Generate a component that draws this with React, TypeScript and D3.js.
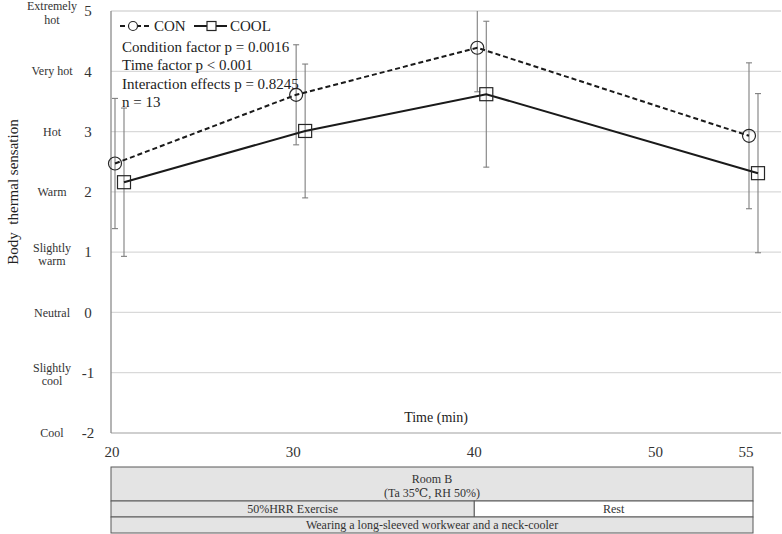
import React from "react";
import * as d3 from "d3";

const times = [20, 30, 40, 55];
const conMean = [2.47, 3.61, 4.39, 2.93];
const conSd = [1.08, 0.83, 0.73, 1.21];
const coolMean = [2.16, 3.01, 3.62, 2.31];
const coolSd = [1.23, 1.11, 1.21, 1.32];

const xTicks = [20, 30, 40, 50, 55];
const yTicks = [5, 4, 3, 2, 1, 0, -1, -2];
const yLabels = [
  ["Extremely", "hot"],
  ["Very hot"],
  ["Hot"],
  ["Warm"],
  ["Slightly", "warm"],
  ["Neutral"],
  ["Slightly", "cool"],
  ["Cool"],
];
const statLines = [
  "Condition factor p = 0.0016",
  "Time factor p < 0.001",
  "Interaction effects p = 0.8245",
  "n = 13",
];

const W = 782;
const H = 534;
const left = 111;
const right = 781;
const top = 11;
const bottom = 433;
const font = "Liberation Serif, DejaVu Serif, serif";

export default function App() {
  const x = d3.scaleLinear().domain([20, 55]).range([112, 746]);
  const y = d3.scaleLinear().domain([-2, 5]).range([bottom, top]);

  const series = [
    { name: "CON", mean: conMean, sd: conSd, dx: 3, dash: "5,3", marker: "circle" },
    { name: "COOL", mean: coolMean, sd: coolSd, dx: 12, dash: null, marker: "square" },
  ];

  const clampY = (v: number) => y(Math.max(-2, Math.min(5, v)));

  const boxL = left;
  const boxR = 753;
  const splitX = x(40);

  return (
    <svg width={W} height={H} style={{ position: "absolute", left: 0, top: 0 }}>
      <g fontFamily={font}>
        <rect width={W} height={H} fill="#fff" />
        {/* grid */}
        {yTicks.map(t => (
          <line key={t} x1={left} x2={right} y1={y(t)} y2={y(t)} stroke={t === -2 ? "#bfbfbf" : "#d9d9d9"} strokeWidth={1.3} />
        ))}
        <line x1={left} x2={left} y1={top} y2={bottom} stroke="#8c8c8c" strokeWidth={1.3} />

        {/* y tick numbers and labels */}
        {yTicks.map((t, i) => (
          <g key={"yl" + t}>
            <text x={88} y={y(t)} dy="0.35em" textAnchor="middle" fontSize={15} fill="#333">{t}</text>
            <text x={52} y={y(t)} textAnchor="middle" fontSize={12} fill="#333">
              {yLabels[i].map((s, j) => (
                <tspan key={j} x={52} dy={j === 0 ? (yLabels[i].length === 1 ? "0.35em" : "-0.05em") : "1.1em"}>{s}</tspan>
              ))}
            </text>
          </g>
        ))}
        <text
          transform={`translate(13,${(top + bottom) / 2 - 30}) rotate(-90)`}
          textAnchor="middle"
          dy="0.35em"
          fontSize={15}
          fill="#222"
          style={{ whiteSpace: "pre" }}
        >
          {"Body  thermal sensation"}
        </text>

        {/* x ticks */}
        {xTicks.map(t => (
          <text key={"xt" + t} x={x(t)} y={452} dy="0.35em" textAnchor="middle" fontSize={15} fill="#333">{t}</text>
        ))}
        <text x={436} y={422} textAnchor="middle" fontSize={14} fill="#222">Time (min)</text>

        {/* error bars */}
        {series.map(s =>
          times.map((t, i) => {
            const cx = x(t) + s.dx;
            const hi = s.mean[i] + s.sd[i];
            const lo = s.mean[i] - s.sd[i];
            return (
              <g key={s.name + "e" + i} stroke="#7f7f7f" strokeWidth={1.1}>
                <line x1={cx} x2={cx} y1={clampY(hi)} y2={clampY(lo)} />
                {hi <= 5 && <line x1={cx - 3} x2={cx + 3} y1={y(hi)} y2={y(hi)} />}
                <line x1={cx - 3} x2={cx + 3} y1={y(lo)} y2={y(lo)} />
              </g>
            );
          })
        )}

        {/* lines and markers */}
        {series.map(s => {
          const line = d3
            .line<number>()
            .x((_, i) => x(times[i]) + s.dx)
            .y(d => y(d));
          return (
            <g key={s.name}>
              <path d={line(s.mean) || ""} fill="none" stroke="#1a1a1a" strokeWidth={2} strokeDasharray={s.dash || undefined} />
              {s.mean.map((v, i) =>
                s.marker === "circle" ? (
                  <circle key={i} cx={x(times[i]) + s.dx} cy={y(v)} r={6.5} fill="none" stroke="#262626" strokeWidth={1.2} />
                ) : (
                  <rect key={i} x={x(times[i]) + s.dx - 6.5} y={y(v) - 6.5} width={13} height={13} fill="none" stroke="#262626" strokeWidth={1.2} />
                )
              )}
            </g>
          );
        })}

        {/* legend */}
        <g>
          <line x1={120} x2={150} y1={26} y2={26} stroke="#1a1a1a" strokeWidth={2} strokeDasharray="5,3" />
          <circle cx={133} cy={26} r={4.5} fill="#fff" stroke="#262626" strokeWidth={1.2} />
          <text x={154} y={26} dy="0.35em" fontSize={15} fill="#222">CON</text>
          <line x1={194} x2={227} y1={26} y2={26} stroke="#1a1a1a" strokeWidth={2} />
          <rect x={207} y={21.5} width={9} height={9} fill="#fff" stroke="#262626" strokeWidth={1.2} />
          <text x={230} y={26} dy="0.35em" fontSize={15} fill="#222">COOL</text>
        </g>
        {statLines.map((s, i) => (
          <text key={i} x={122} y={52 + i * 18.3} fontSize={15} fill="#222">{s}</text>
        ))}

        {/* condition boxes */}
        <g stroke="#595959" strokeWidth={1}>
          <rect x={boxL} y={467} width={boxR - boxL} height={34} fill="#e4e4e4" />
          <rect x={boxL} y={501} width={splitX - boxL} height={16} fill="#e4e4e4" />
          <rect x={splitX} y={501} width={boxR - splitX} height={16} fill="#fff" />
          <rect x={boxL} y={517} width={boxR - boxL} height={16} fill="#e4e4e4" />
        </g>
        <g fontSize={12} fill="#333" textAnchor="middle">
          <text x={(boxL + boxR) / 2} y={479} dy="0.35em">Room B</text>
          <text x={(boxL + boxR) / 2} y={493} dy="0.35em">(Ta 35℃, RH 50%)</text>
          <text x={(boxL + splitX) / 2} y={509} dy="0.35em">50%HRR Exercise</text>
          <text x={(splitX + boxR) / 2} y={509} dy="0.35em">Rest</text>
          <text x={(boxL + boxR) / 2} y={525} dy="0.35em">Wearing a long-sleeved workwear and a neck-cooler</text>
        </g>
      </g>
    </svg>
  );
}
